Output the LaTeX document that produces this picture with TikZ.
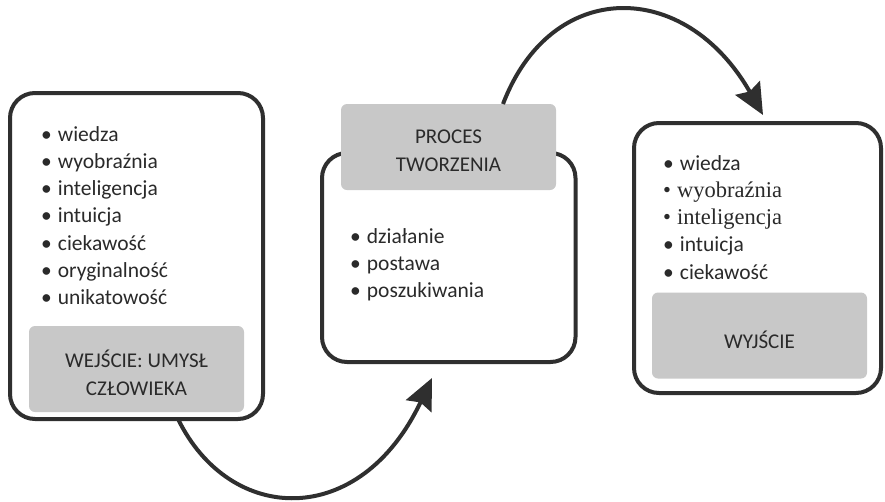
\documentclass[tikz,border=0pt]{standalone}
\usepackage{fontspec}
\setmainfont{Carlito}
\newfontfamily\tnr{Liberation Serif}
\newcommand\serifline{\tnr\fontsize{22.5}{24}\selectfont}
\usetikzlibrary{arrows.meta}

\definecolor{linegray}{HTML}{2F2F2F}
\definecolor{boxgray}{HTML}{C8C8C8}
\definecolor{textgray}{HTML}{2A2A2A}

\tikzset{
  bigbox/.style={draw=linegray, line width=4pt, rounded corners=25pt, outer sep=0pt, fill=white},
  graybox/.style={fill=boxgray, rounded corners=6pt, outer sep=0pt, minimum width=215pt, minimum height=86pt},
  graytext/.style={text=textgray, align=center, inner sep=0pt, font=\fontsize{21}{28}\selectfont},
  listitem/.style={anchor=base west, inner sep=0pt, text=textgray, font=\fontsize{21.5}{24}\selectfont},
  flowarrow/.style={draw=linegray, line width=4pt, -{Stealth[length=31pt,width=28pt,inset=4pt]}}
}

\begin{document}
\begin{tikzpicture}[x=1pt,y=-1pt]
    \useasboundingbox (0,0) rectangle (885,501);

    % Draw input box
    \node[bigbox, minimum width=253pt, minimum height=326pt] (inbox) at (136.5,256) {};
    \node[graybox] (ingray) at (136.5,369) {};
    \node[graytext] (intext) at ([yshift=-4pt]ingray.center) {WEJŚCIE: UMYSŁ\\CZŁOWIEKA};
    \foreach \w [count=\i] in {wiedza,wyobraźnia,inteligencja,intuicja,ciekawość,oryginalność,unikatowość}
        \node[listitem] (in\i) at (41,{141+27.3*(\i-1)}) {\textbullet\hspace{6pt}\w};

    % Draw process box
    \node[bigbox, minimum width=253.5pt, minimum height=209pt] (procbox) at (448.75,257.5) {};
    \node[graybox] (procgray) at (448.5,147) {};
    \node[graytext] (proctext) at ([yshift=-4pt]procgray.center) {PROCES\\TWORZENIA};
    \foreach \w [count=\i] in {działanie,postawa,poszukiwania}
        \node[listitem] (proc\i) at (350,{243+27.3*(\i-1)}) {\textbullet\hspace{6pt}\w};

    % Draw output box
    \node[bigbox, minimum width=247pt, minimum height=270pt] (outbox) at (757.5,258) {};
    \node[graybox] (outgray) at (759.5,335.5) {};
    \node[graytext] (outtext) at ([yshift=-4pt]outgray.center) {WYJŚCIE};
    \foreach \f/\w [count=\i] in {\relax/wiedza,\serifline/wyobraźnia,\serifline/inteligencja,\relax/intuicja,\relax/ciekawość}
        \node[listitem] (out\i) at (663,{170+27.3*(\i-1)}) {\f\textbullet\hspace{6pt}\w};

    % Draw flow arrows
    \draw[flowarrow] ([xshift=41.5pt]inbox.south) .. controls +(52,106) and +(-72,152) .. ([xshift=-16.75pt,yshift=-16pt]procbox.south);
    \draw[flowarrow] ([xshift=54.5pt]procgray.north) .. controls +(48,-126) and +(-78,-137) .. ([xshift=5.5pt,yshift=8pt]outbox.north);
\end{tikzpicture}
\end{document}
